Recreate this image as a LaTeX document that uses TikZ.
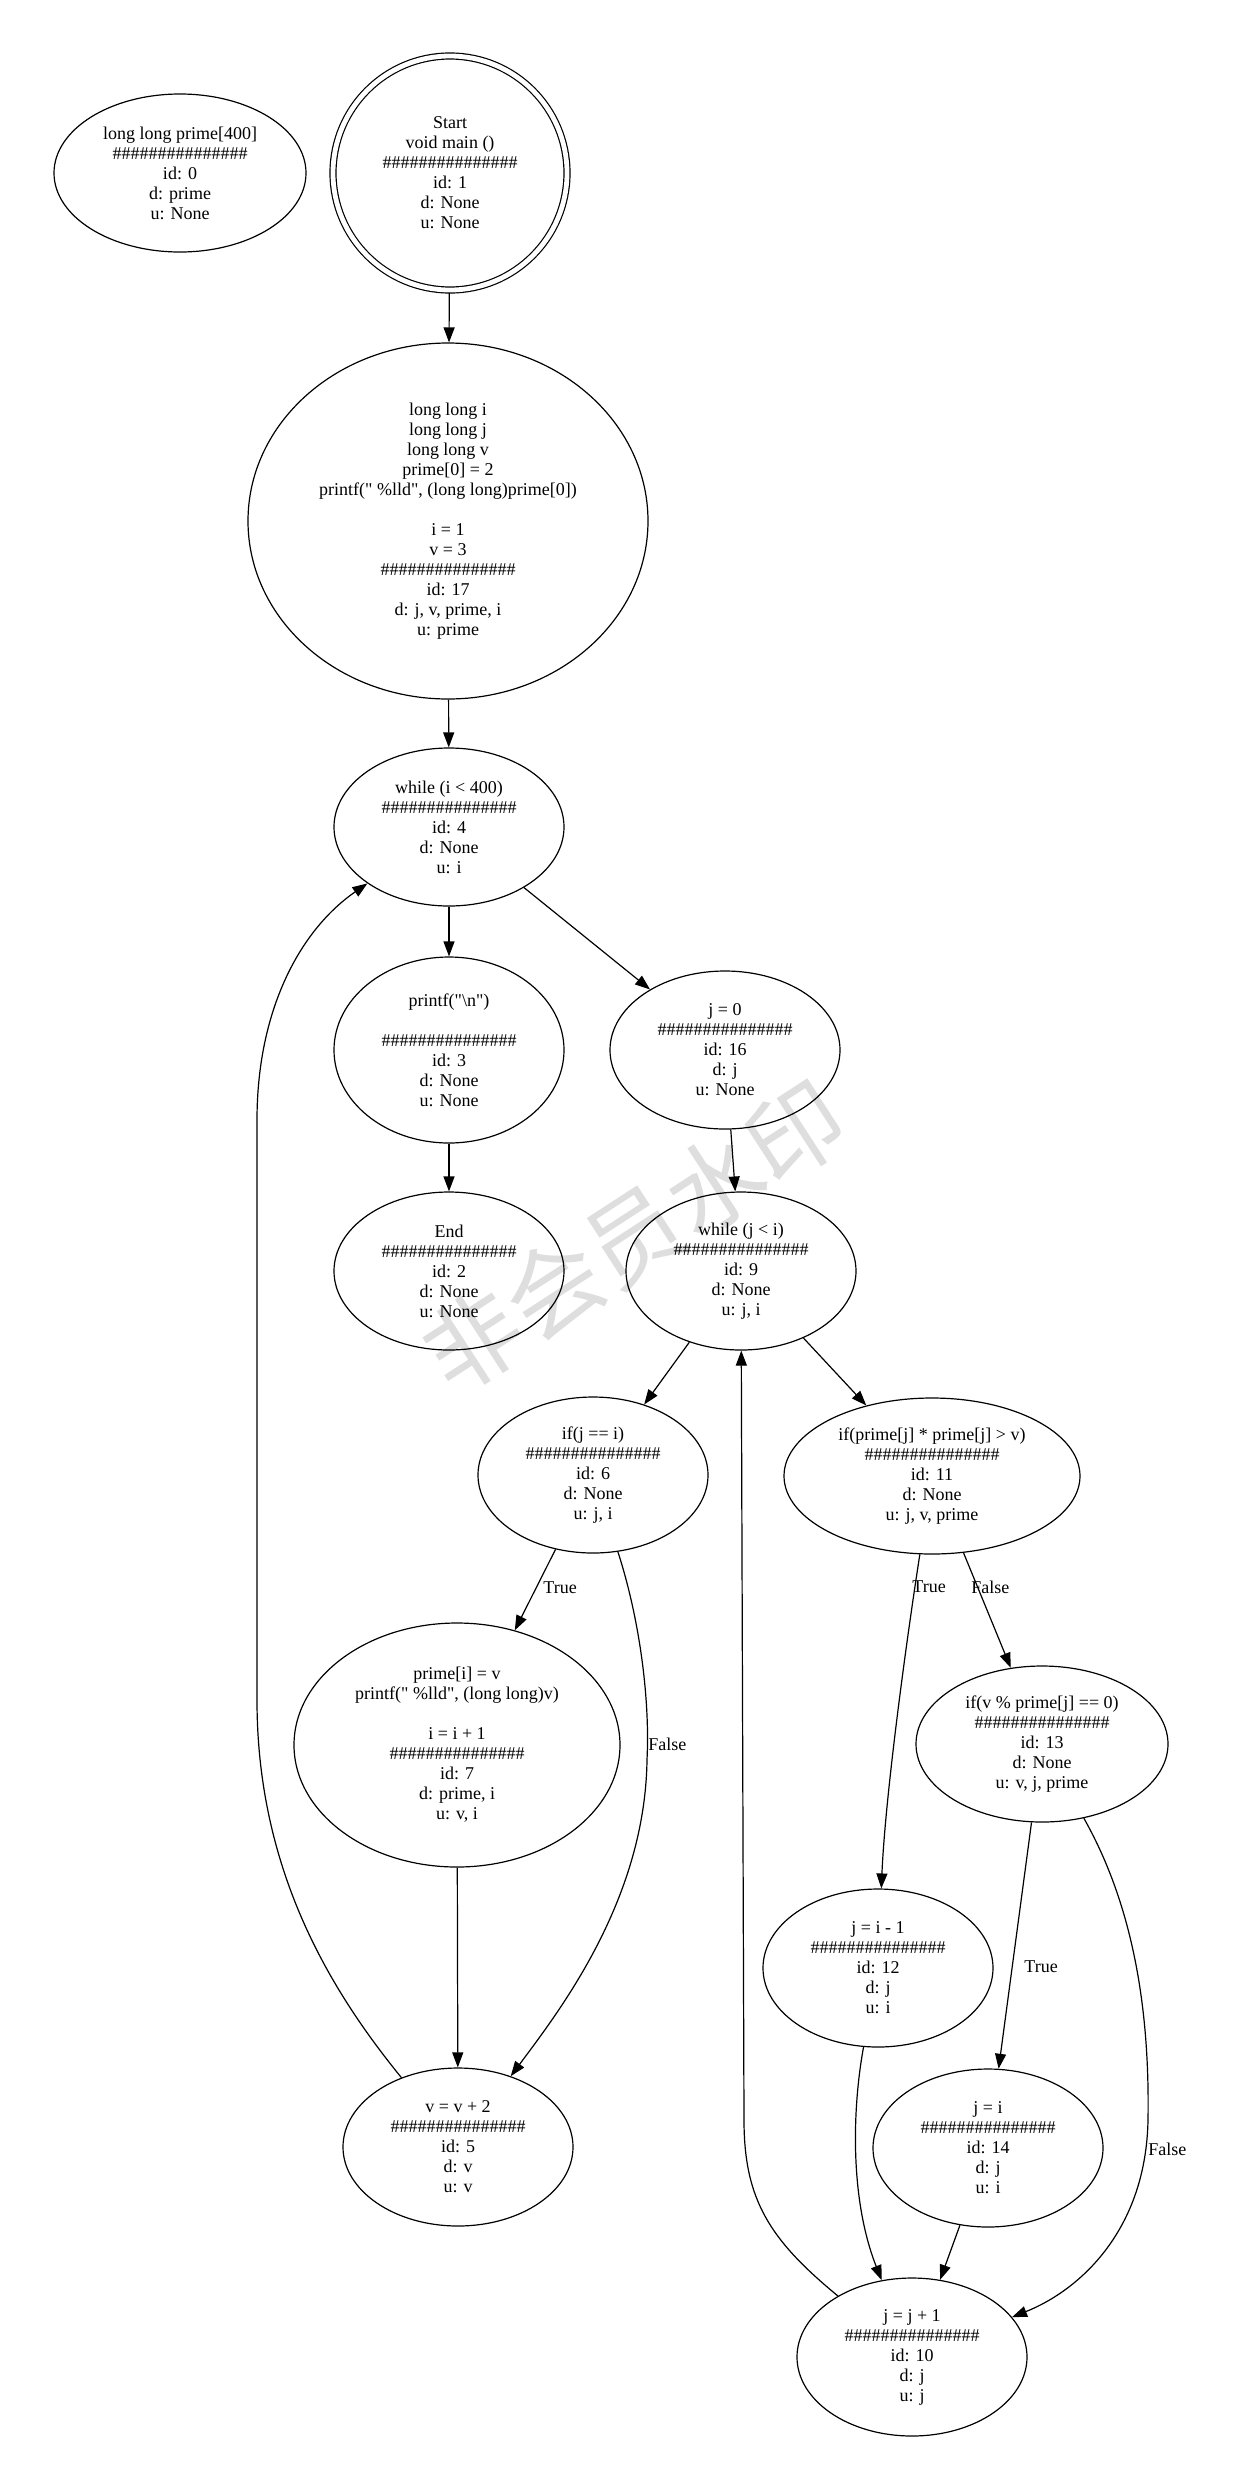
\documentclass[tikz,border=0pt]{standalone}
\usepackage{fontspec}
\setmainfont{Liberation Serif}[Ligatures=TeXOff]
\newfontfamily\cjkwm{Noto Sans CJK SC}
\usetikzlibrary{shapes.geometric,arrows.meta}
\newcommand\hsh{\#\#\#\#\#\#\#\#\#\#\#\#\#\#\#}
\newcommand\dq{\symbol{34}}
\begin{document}
\begin{tikzpicture}[x=0.5pt,y=-0.5pt,
  every node/.style={font=\fontsize{9pt}{10pt}\selectfont},
  blk/.style={draw, ellipse, line width=0.6pt, align=center, inner sep=-2pt},
  sz/.style 2 args={minimum width=#1pt, minimum height=#2pt},
  edge/.style={draw, line width=0.6pt, -{Triangle[length=7.5pt,width=5.5pt]}},
  lbl/.style={anchor=west, inner sep=0pt}
]
\useasboundingbox (0,0) rectangle (1240,2485);

% watermark
\node[rotate=33, text=black!13, inner sep=0pt, font=\cjkwm\fontsize{48pt}{48pt}\selectfont] (wm) at (634,1236) {非会员水印};

% nodes
\node[blk, sz={126}{79}] (n0) at (180,173) {long long prime[400]\\\hsh\\id: 0\\d: prime\\u: None};
\node[circle, draw, double, double distance=2.4pt, line width=0.6pt, minimum size=117pt, inner sep=0pt, outer sep=1.5pt, align=center] (n1) at (450,173) {Start\\void main ()\\\hsh\\id: 1\\d: None\\u: None};
\node[blk, sz={200}{178}] (n17) at (448,521) {long long i\\long long j\\long long v\\prime[0] = 2\\printf(\dq{} \%lld\dq, (long long)prime[0])\\[10pt]i = 1\\v = 3\\\hsh\\id: 17\\d: j, v, prime, i\\u: prime};
\node[blk, sz={115}{79}] (n4) at (449,827) {while (i < 400)\\\hsh\\id: 4\\d: None\\u: i};
\node[blk, sz={115}{93}] (n3) at (449,1050) {printf(\dq\textbackslash n\dq)\\[10pt]\hsh\\id: 3\\d: None\\u: None};
\node[blk, sz={115}{79}] (n16) at (725,1050) {j = 0\\\hsh\\id: 16\\d: j\\u: None};
\node[blk, sz={115}{79}] (n2) at (449,1271) {End\\\hsh\\id: 2\\d: None\\u: None};
\node[blk, sz={115}{79}] (n9) at (741,1271) {while (j < i)\\\hsh\\id: 9\\d: None\\u: j, i};
\node[blk, sz={115}{78}] (n6) at (593,1475) {if(j == i)\\\hsh\\id: 6\\d: None\\u: j, i};
\node[blk, sz={148}{78}] (n11) at (932,1476) {if(prime[j] * prime[j] > v)\\\hsh\\id: 11\\d: None\\u: j, v, prime};
\node[blk, sz={163}{122}] (n7) at (457,1745) {prime[i] = v\\printf(\dq{} \%lld\dq, (long long)v)\\[10pt]i = i + 1\\\hsh\\id: 7\\d: prime, i\\u: v, i};
\node[blk, sz={126}{78}] (n13) at (1042,1744) {if(v \% prime[j] == 0)\\\hsh\\id: 13\\d: None\\u: v, j, prime};
\node[blk, sz={115}{79}] (n12) at (878,1968) {j = i - 1\\\hsh\\id: 12\\d: j\\u: i};
\node[blk, sz={115}{79}] (n5) at (458,2147) {v = v + 2\\\hsh\\id: 5\\d: v\\u: v};
\node[blk, sz={115}{79}] (n14) at (988,2148) {j = i\\\hsh\\id: 14\\d: j\\u: i};
\node[blk, sz={115}{79}] (n10) at (912,2357) {j = j + 1\\\hsh\\id: 10\\d: j\\u: j};

% edges
\draw[edge] (n1) -- (n17);
\draw[edge] (n17) -- (n4);
\draw[edge] (n4) -- (n3);
\draw[edge] (n4) -- (n16);
\draw[edge] (n3) -- (n2);
\draw[edge] (n16) -- (n9);
\draw[edge] (n9) -- (n6);
\draw[edge] (n9) -- (n11);
\draw[edge] (n6) -- (n7);
\draw[edge] (n6) .. controls (640,1620) and (650,1700) .. (647,1760) .. controls (645,1900) and (560,2010) .. (n5);
\draw[edge] (n7) -- (n5);
\draw[edge] (n5) .. controls (330,1990) and (257,1870) .. (257,1700) -- (257,1120) .. controls (257,1010) and (300,930) .. (n4);
\draw[edge] (n11) .. controls (905,1650) and (885,1800) .. (n12);
\draw[edge] (n11) -- (n13);
\draw[edge] (n13) -- (n14);
\draw[edge] (n13) .. controls (1130,1900) and (1150,2000) .. (1148,2120) .. controls (1146,2230) and (1080,2290) .. (n10);
\draw[edge] (n12) .. controls (852,2110) and (850,2200) .. (n10);
\draw[edge] (n14) -- (n10);
\draw[edge] (n10) .. controls (770,2240) and (744,2200) .. (744,2120) -- (n9);

% edge labels
\node[lbl] (t1) at (543,1588) {True};
\node[lbl] (f1) at (648,1744) {False};
\node[lbl] (t2) at (912,1587) {True};
\node[lbl] (f2) at (971,1587) {False};
\node[lbl] (t3) at (1024,1967) {True};
\node[lbl] (f3) at (1148,2149) {False};
\end{tikzpicture}
\end{document}
